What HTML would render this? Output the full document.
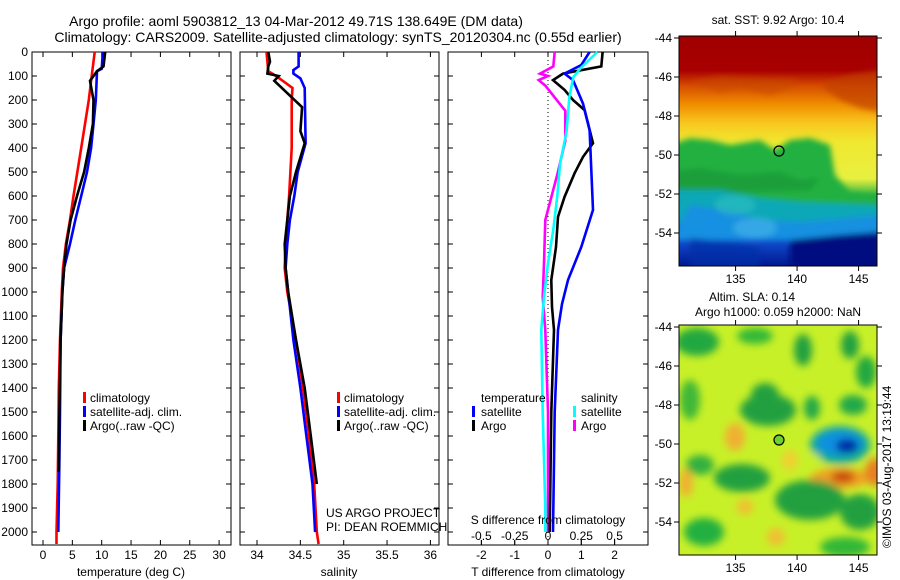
<!DOCTYPE html>
<html><head><meta charset="utf-8">
<style>
html,body{margin:0;padding:0;background:#fff;}
svg{display:block;font-family:"Liberation Sans",sans-serif;}
text{font-size:12px;fill:#000;}
</style></head>
<body>
<svg id="chart" width="900" height="580" viewBox="0 0 900 580" xmlns="http://www.w3.org/2000/svg">
<defs>
  <linearGradient id="sstGrad" x1="0" y1="0" x2="0" y2="1">
    <stop offset="0" stop-color="#a00000"/>
    <stop offset="0.15" stop-color="#a80000"/>
    <stop offset="0.22" stop-color="#d85000"/>
    <stop offset="0.3" stop-color="#f09000"/>
    <stop offset="0.38" stop-color="#f8c820"/>
    <stop offset="0.46" stop-color="#f0e830"/>
    <stop offset="0.62" stop-color="#e8f040"/>
    <stop offset="0.7" stop-color="#20b040"/>
    <stop offset="0.74" stop-color="#10b0b0"/>
    <stop offset="0.8" stop-color="#1088e0"/>
    <stop offset="0.9" stop-color="#1048c8"/>
    <stop offset="1" stop-color="#001890"/>
  </linearGradient>
  <filter id="blur3"><feGaussianBlur stdDeviation="3"/></filter>
  <filter id="blur5"><feGaussianBlur stdDeviation="4"/></filter>
  <clipPath id="clipTop"><rect x="679" y="36" width="198" height="230"/></clipPath>
  <clipPath id="clipBot"><rect x="679" y="325" width="198" height="230"/></clipPath>
</defs>

<g>
  <text x="296" y="26" text-anchor="middle" style="font-size:14px">Argo profile: aoml 5903812_13 04-Mar-2012 49.71S 138.649E (DM data)</text>
  <text x="338" y="42" text-anchor="middle" style="font-size:14px">Climatology: CARS2009. Satellite-adjusted climatology: synTS_20120304.nc (0.55d earlier)</text>
</g>

<g id="p1"></g>
<g id="p2"></g>
<g id="p3"></g>

<!-- SST map -->
<g>
  <text x="778" y="24" text-anchor="middle">sat. SST: 9.92 Argo: 10.4</text>
  <g clip-path="url(#clipTop)">
    <rect x="679" y="36" width="198" height="230" fill="url(#sstGrad)"/>
    <g filter="url(#blur3)">
      <path d="M670 145 L690 138 L710 140 L730 145 L760 140 L775 150 L790 140 L810 138 L830 145 L835 175 L850 192 L880 195 L880 214 L800 210 L760 212 L700 214 L670 214 Z" fill="#20b040"/>
      <path d="M670 172 L700 168 L740 175 L780 172 L800 180 L820 178 L810 190 L670 195 Z" fill="#209838" opacity="0.7"/>
      <path d="M670 190 L720 190 L760 198 L800 202 L880 205 L880 222 L670 222 Z" fill="#10a8b8"/>
      <path d="M690 205 L730 210 L760 220 L800 222 L880 215 L880 240 L670 240 Z" fill="#1890e0"/>
      <path d="M820 85 L850 75 L880 70 L880 112 L860 108 L840 100 Z" fill="#c04000" opacity="0.7"/>
      <path d="M690 82 L720 92 L740 88 L770 95 L790 88 L800 80 L720 76 Z" fill="#c84800" opacity="0.6"/>
      <path d="M790 240 L840 235 L880 232 L880 270 L790 270 Z" fill="#001080"/>
      <path d="M690 238 L730 242 L760 248 L760 270 L690 270 Z" fill="#0030a8" opacity="0.7"/>
      <ellipse cx="735" cy="205" rx="20" ry="10" fill="#30c0c0" opacity="0.6"/>
      <ellipse cx="755" cy="228" rx="22" ry="10" fill="#40b0e8" opacity="0.7"/>
    </g>
  </g>
  <rect x="679" y="36" width="198" height="230" fill="none" stroke="#000" stroke-width="1"/>
  <circle cx="779" cy="151" r="5" fill="none" stroke="#000" stroke-width="1.2"/>
  <g id="topMapAxes"></g>
</g>

<!-- SLA map -->
<g>
  <text x="752" y="301" text-anchor="middle">Altim. SLA: 0.14</text>
  <text x="778" y="316" text-anchor="middle">Argo h1000: 0.059 h2000: NaN</text>
  <g clip-path="url(#clipBot)">
    <rect x="679" y="325" width="198" height="230" fill="#c8f028"/>
    <g filter="url(#blur5)">
      <ellipse cx="697" cy="342" rx="22" ry="14" fill="#20a840"/>
      <ellipse cx="755" cy="336" rx="18" ry="8" fill="#30b838"/>
      <ellipse cx="803" cy="350" rx="9" ry="16" fill="#20a040"/>
      <ellipse cx="850" cy="345" rx="9" ry="14" fill="#20a040"/>
      <ellipse cx="866" cy="372" rx="10" ry="16" fill="#20a840"/>
      <ellipse cx="768" cy="410" rx="28" ry="16" fill="#20a040"/>
      <ellipse cx="765" cy="395" rx="14" ry="12" fill="#20a040"/>
      <ellipse cx="690" cy="400" rx="10" ry="20" fill="#40b838"/>
      <ellipse cx="812" cy="408" rx="8" ry="12" fill="#20a848"/>
      <ellipse cx="853" cy="405" rx="14" ry="10" fill="#20a848"/>
      <ellipse cx="840" cy="445" rx="30" ry="19" fill="#10a8a0"/>
      <ellipse cx="840" cy="443" rx="23" ry="12" fill="#1090e0"/>
      <ellipse cx="847" cy="446" rx="11" ry="7" fill="#0020a0"/>
      <ellipse cx="812" cy="462" rx="9" ry="9" fill="#c8f028"/>
      <ellipse cx="840" cy="478" rx="30" ry="10" fill="#f0a020"/>
      <ellipse cx="843" cy="477" rx="12" ry="6" fill="#c84810"/>
      <ellipse cx="875" cy="472" rx="10" ry="14" fill="#e88020"/>
      <ellipse cx="686" cy="483" rx="7" ry="14" fill="#f0b030"/>
      <ellipse cx="742" cy="478" rx="28" ry="14" fill="#20a040"/>
      <ellipse cx="700" cy="465" rx="14" ry="10" fill="#30b040"/>
      <ellipse cx="810" cy="500" rx="35" ry="20" fill="#20a040"/>
      <ellipse cx="860" cy="512" rx="20" ry="18" fill="#20a040"/>
      <ellipse cx="704" cy="532" rx="20" ry="14" fill="#20b040"/>
      <ellipse cx="735" cy="437" rx="10" ry="14" fill="#f0b030"/>
      <ellipse cx="745" cy="507" rx="8" ry="8" fill="#f0c030"/>
      <ellipse cx="776" cy="537" rx="9" ry="9" fill="#f0c030"/>
      <ellipse cx="790" cy="460" rx="8" ry="10" fill="#f0d030"/>
      <ellipse cx="845" cy="547" rx="25" ry="10" fill="#30b838"/>
    </g>
  </g>
  <rect x="679" y="325" width="198" height="230" fill="none" stroke="#000" stroke-width="1"/>
  <circle cx="779" cy="440" r="5" fill="#70d030" stroke="#000" stroke-width="1.2"/>
  <g id="botMapAxes"></g>
</g>

<text transform="translate(891,548) rotate(-90)" text-anchor="start">©IMOS 03-Aug-2017 13:19:44</text>

<script>
// ---------------- data ----------------
var depthTicks = [0,100,200,300,400,500,600,700,800,900,1000,1100,1200,1300,1400,1500,1600,1700,1800,1900,2000];
var tempTicks = [0,5,10,15,20,25,30];
var salTicks = [34,34.5,35,35.5,36];
var tdiffTicks = [-2,-1,0,1,2];
var sdiffTicks = [-0.5,-0.25,0,0.25,0.5];

var tClimDepth = [0,100,200,400,600,700,800,900,1000,1200,1400,1600,1800,2000,2050];
var tClimVal   = [8.8,8.3,7.8,6.5,5.2,4.6,3.9,3.4,3.2,2.9,2.7,2.6,2.5,2.3,2.3];
var tSatDepth = [0,70,80,200,300,400,500,600,700,800,900,1000,1200,1500,1700,2000];
var tSatVal   = [10.2,10.0,9.2,9.0,8.6,8.2,7.5,6.5,5.5,4.6,3.6,3.3,3.0,2.9,2.8,2.6];
var tArgoDepth = [0,60,80,120,200,300,400,500,600,700,800,900,1000,1200,1500,1750];
var tArgoVal   = [10.6,10.3,9.2,8.0,8.6,8.5,7.8,7.0,5.8,4.7,4.0,3.6,3.3,3.0,2.8,2.7];

var sClimDepth = [0,80,100,150,200,400,600,700,800,900,1000,1200,1400,1600,1800,2000,2050];
var sClimVal   = [34.11,34.13,34.22,34.41,34.40,34.40,34.37,34.35,34.33,34.32,34.35,34.45,34.53,34.60,34.66,34.69,34.71];
var sSatDepth = [0,60,75,90,110,150,380,500,600,700,800,900,1000,1200,1400,1600,1800,2000];
var sSatVal   = [34.48,34.48,34.42,34.42,34.50,34.55,34.56,34.47,34.43,34.38,34.35,34.33,34.36,34.42,34.50,34.57,34.64,34.67];
var sArgoDepth = [0,40,60,90,100,120,230,330,380,500,600,700,800,900,1000,1200,1400,1600,1800];
var sArgoVal   = [34.13,34.15,34.13,34.12,34.25,34.20,34.52,34.50,34.55,34.45,34.38,34.35,34.32,34.33,34.36,34.45,34.55,34.62,34.69];

var dTSatDepth = [0,54,90,117,215,325,658,812,950,1050,1158,1500,2000];
var dTSatVal   = [1.25,1.0,0.5,0.75,1.05,1.25,1.35,1.0,0.6,0.42,0.3,0.2,0.15];
var dTArgoDepth = [0,60,90,117,158,200,242,380,437,505,603,687,812,950,1062,1158,1500,2000];
var dTArgoVal   = [1.64,1.6,0.45,0.15,0.5,0.75,1.1,1.35,1.05,0.8,0.5,0.3,0.24,0.1,0.12,0.18,0.1,0.05];
var dSSatDepth = [0,70,105,190,330,467,600,740,880,1020,1158,1500,1900,2000];
var dSSatVal   = [0.37,0.24,0.19,0.16,0.14,0.09,0.07,0.04,0,-0.03,-0.05,-0.04,-0.02,-0.02];
var dSArgoDepth = [0,60,90,100,117,140,245,370,510,700,880,1020,1158,1500,2000];
var dSArgoVal   = [0.05,0.04,-0.06,0.0,-0.07,-0.02,0.13,0.13,0.07,-0.02,-0.03,-0.04,-0.02,0.0,0.0];

var mapLatTicks = [-44,-46,-48,-50,-52,-54];
var mapLonTicks = [135,140,145];

// ---------------- helpers ----------------
var NS = "http://www.w3.org/2000/svg";
function mk(tag, attrs, parent){
  var e = document.createElementNS(NS, tag);
  for (var k in attrs) e.setAttribute(k, attrs[k]);
  parent.appendChild(e);
  return e;
}
var TOP = 52, BOT = 545;
function yDepth(d){ return 52 + d * 0.24; }
function xTemp(v){ return 43 + v * 5.87; }
function xSal(v){ return 257 + (v - 34) * 86.7; }
function xTd(v){ return 548 + v * 33.3; }
function xSd(v){ return 548 + v * 133.2; }

function frame(g, x0, x1){
  var r = mk('rect', {x:x0, y:TOP, width:x1-x0, height:BOT-TOP, fill:'none', stroke:'#000', 'stroke-width':1}, g);
  
  
}
function stepLine(g, depths, vals, xf, color, name){
  var d = '';
  for (var i = 0; i < depths.length; i++){
    var x = xf(vals[i]).toFixed(1), y = yDepth(depths[i]).toFixed(1);
    d += (i === 0 ? 'M' : 'L') + x + ' ' + y;
  }
  var p = mk('path', {d:d, fill:'none', stroke:color, 'stroke-width':2.6, 'stroke-linejoin':'miter'}, g);
  
  
}
function xTicks(g, ticks, xf, fmt, ly, ticksBottomOnly){
  ticks.forEach(function(t){
    var x = xf(t);
    mk('line', {x1:x, y1:BOT, x2:x, y2:BOT-5, stroke:'#000'}, g);
    if (!ticksBottomOnly) mk('line', {x1:x, y1:TOP, x2:x, y2:TOP+5, stroke:'#000'}, g);
    var tx = mk('text', {x:x, y:ly, 'text-anchor':'middle'}, g);
    tx.textContent = fmt(t);
    
    
  });
}
function depthTickMarks(g, x0, x1, labels){
  depthTicks.forEach(function(t){
    var y = yDepth(t);
    mk('line', {x1:x0, y1:y, x2:x0+5, y2:y, stroke:'#000'}, g);
    mk('line', {x1:x1, y1:y, x2:x1-5, y2:y, stroke:'#000'}, g);
    if (labels){
      var tx = mk('text', {x:28, y:y+4, 'text-anchor':'end'}, g);
      tx.textContent = String(t);
      
      
    }
  });
}
function label(g, x, y, s, name, anchor){
  var t = mk('text', {x:x, y:y, 'text-anchor':anchor||'start'}, g);
  t.textContent = s;
  
  
}
function legendMark(g, x, y, color, name){
  var r = mk('rect', {x:x, y:y-10, width:3, height:11, fill:color}, g);
  
  
}

// ---------------- panel 1 ----------------
var g1 = document.getElementById('p1');
frame(g1, 32, 231);
depthTickMarks(g1, 32, 231, true);
xTicks(g1, tempTicks, xTemp, String, 559);
stepLine(g1, tClimDepth, tClimVal, xTemp, '#ff0000', 'temp-climatology-line');
stepLine(g1, tSatDepth, tSatVal, xTemp, '#0000ff', 'temp-satellite-line');
stepLine(g1, tArgoDepth, tArgoVal, xTemp, '#000000', 'temp-argo-line');
label(g1, 131, 576, 'temperature (deg C)', 'x-axis-title', 'middle');
legendMark(g1, 83, 402, '#ff0000', 'legend-climatology-mark'); label(g1, 90, 402, 'climatology', 'legend-climatology');
legendMark(g1, 83, 416, '#0000ff', 'legend-satellite-mark'); label(g1, 90, 416, 'satellite-adj. clim.', 'legend-satellite');
legendMark(g1, 83, 430, '#000000', 'legend-argo-mark'); label(g1, 90, 430, 'Argo(..raw -QC)', 'legend-argo');

// ---------------- panel 2 ----------------
var g2 = document.getElementById('p2');
frame(g2, 240, 439);
depthTickMarks(g2, 240, 439, false);
xTicks(g2, salTicks, xSal, String, 559);
stepLine(g2, sClimDepth, sClimVal, xSal, '#ff0000', 'sal-climatology-line');
stepLine(g2, sSatDepth, sSatVal, xSal, '#0000ff', 'sal-satellite-line');
stepLine(g2, sArgoDepth, sArgoVal, xSal, '#000000', 'sal-argo-line');
label(g2, 339, 576, 'salinity', 'x-axis-title', 'middle');
legendMark(g2, 337, 402, '#ff0000', 'legend-climatology-mark'); label(g2, 344, 402, 'climatology', 'legend-climatology');
legendMark(g2, 337, 416, '#0000ff', 'legend-satellite-mark'); label(g2, 344, 416, 'satellite-adj. clim.', 'legend-satellite');
legendMark(g2, 337, 430, '#000000', 'legend-argo-mark'); label(g2, 344, 430, 'Argo(..raw -QC)', 'legend-argo');
label(g2, 326, 517, 'US ARGO PROJECT', 'credit-project');
label(g2, 326, 531, 'PI: DEAN ROEMMICH', 'credit-pi');

// ---------------- panel 3 ----------------
var g3 = document.getElementById('p3');
frame(g3, 448, 648);
depthTickMarks(g3, 448, 648, false);
xTicks(g3, tdiffTicks, xTd, String, 559, true);
tdiffTicks.forEach(function(t){ mk('line', {x1:xTd(t), y1:TOP, x2:xTd(t), y2:TOP+5, stroke:'#000'}, g3); });
sdiffTicks.forEach(function(t){
  var x = xSd(t);
  mk('line', {x1:x, y1:BOT, x2:x, y2:BOT-5, stroke:'#000'}, g3);
  var tx = mk('text', {x:x, y:540, 'text-anchor':'middle'}, g3);
  tx.textContent = String(t);
  
  
});
var zl = mk('line', {x1:xTd(0), y1:TOP, x2:xTd(0), y2:BOT, stroke:'#000', 'stroke-dasharray':'1,3'}, g3);


stepLine(g3, dSArgoDepth, dSArgoVal, xSd, '#ff00ff', 'sdiff-argo-line');
stepLine(g3, dTArgoDepth, dTArgoVal, xTd, '#000000', 'tdiff-argo-line');
stepLine(g3, dTSatDepth, dTSatVal, xTd, '#0000ff', 'tdiff-satellite-line');
stepLine(g3, dSSatDepth, dSSatVal, xSd, '#00ffff', 'sdiff-satellite-line');
label(g3, 548, 524, 'S difference from climatology', 'sdiff-axis-title', 'middle');
label(g3, 548, 576, 'T difference from climatology', 'x-axis-title', 'middle');
label(g3, 481, 402, 'temperature', 'legend-temperature-heading');
legendMark(g3, 472, 416, '#0000ff', 'legend-tsat-mark'); label(g3, 481, 416, 'satellite', 'legend-tsat');
legendMark(g3, 472, 430, '#000000', 'legend-targo-mark'); label(g3, 481, 430, 'Argo', 'legend-targo');
label(g3, 581, 402, 'salinity', 'legend-salinity-heading');
legendMark(g3, 573, 416, '#00ffff', 'legend-ssat-mark'); label(g3, 581, 416, 'satellite', 'legend-ssat');
legendMark(g3, 573, 430, '#ff00ff', 'legend-sargo-mark'); label(g3, 581, 430, 'Argo', 'legend-sargo');

// ---------------- map axes ----------------
function mapAxes(id, top){
  var g = document.getElementById(id);
  function mx(lon){ return 679 + (lon - 130.4) * 12.3; }
  function my(lat){ return top + 2 + (-44 - lat) * 19.5; }
  mapLatTicks.forEach(function(t){
    var y = my(t);
    mk('line', {x1:679, y1:y, x2:674, y2:y, stroke:'#000'}, g);
    mk('line', {x1:877, y1:y, x2:882, y2:y, stroke:'#000'}, g);
    var tx = mk('text', {x:672, y:y+4, 'text-anchor':'end'}, g);
    tx.textContent = String(t);
    
    
  });
  mapLonTicks.forEach(function(t){
    var x = mx(t);
    mk('line', {x1:x, y1:top+230, x2:x, y2:top+235, stroke:'#000'}, g);
    mk('line', {x1:x, y1:top, x2:x, y2:top-5, stroke:'#000'}, g);
    var tx = mk('text', {x:x, y:top+247, 'text-anchor':'middle'}, g);
    tx.textContent = String(t);
    
    
  });
}
mapAxes('topMapAxes', 36);
mapAxes('botMapAxes', 325);
</script>
</svg>
</body></html>
